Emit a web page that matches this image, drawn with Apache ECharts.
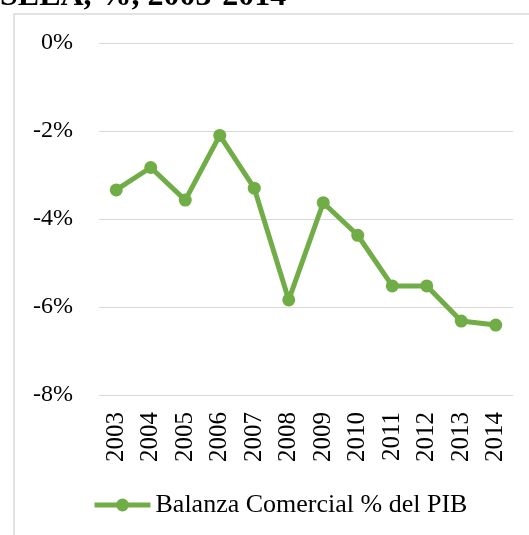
<!DOCTYPE html>
<html>
<head>
<meta charset="utf-8">
<script src="https://cdn.jsdelivr.net/npm/echarts@6/dist/echarts.min.js"></script>
<style>
  html, body { margin: 0; padding: 0; background: #fff; }
  #chart { width: 529px; height: 535px; }
</style>
</head>
<body>
<div id="chart"></div>
<script>
// datos
var years = ['2003', '2004', '2005', '2006', '2007', '2008', '2009', '2010', '2011', '2012', '2013', '2014'];
var balanza = [-3.34, -2.83, -3.57, -2.10, -3.30, -5.84, -3.63, -4.37, -5.52, -5.52, -6.32, -6.41];
var serieNombre = 'Balanza Comercial % del PIB';
var titulo = 'SELA, %, 2003-2014';

var fuente = '"Liberation Serif", "Times New Roman", serif';
var verde = '#70AD47';

var myChart = echarts.init(document.getElementById('chart'));

var option = {
    animation: false,
    backgroundColor: '#fff',
    graphic: [
        {
            // marco del área del gráfico
            type: 'rect',
            shape: { x: 14, y: 14, width: 700, height: 700 },
            style: { fill: 'none', stroke: '#d9d9d9', lineWidth: 1.5 },
            silent: true
        },
        {
            type: 'text',
            x: 0,
            y: -19,
            style: {
                text: titulo,
                font: 'bold 32px ' + fuente,
                fill: '#000',
                textVerticalAlign: 'top'
            },
            silent: true
        }
    ],
    grid: { left: 99, right: 16, top: 43, bottom: 140 },
    legend: {
        data: [serieNombre],
        left: 87,
        top: 487,
        itemWidth: 56,
        itemHeight: 16,
        itemStyle: { color: verde },
        lineStyle: { color: verde, width: 5 },
        textStyle: { fontFamily: fuente, fontSize: 26, color: '#000' }
    },
    xAxis: {
        type: 'category',
        data: years,
        boundaryGap: true,
        axisLine: { show: false },
        axisTick: { show: false },
        axisLabel: {
            rotate: 90,
            margin: 17,
            fontFamily: fuente,
            fontSize: 25,
            color: '#000'
        }
    },
    yAxis: {
        type: 'value',
        min: -8,
        max: 0,
        interval: 2,
        axisLine: { show: false },
        axisTick: { show: false },
        splitLine: { lineStyle: { color: '#d9d9d9', width: 1 } },
        axisLabel: {
            margin: 26,
            fontFamily: fuente,
            fontSize: 24,
            color: '#000',
            formatter: '{value}%'
        }
    },
    series: [
        {
            name: serieNombre,
            type: 'line',
            data: balanza,
            symbol: 'circle',
            symbolSize: 13,
            itemStyle: { color: verde },
            lineStyle: { color: verde, width: 5 }
        }
    ]
};

myChart.setOption(option);
</script>
</body>
</html>
